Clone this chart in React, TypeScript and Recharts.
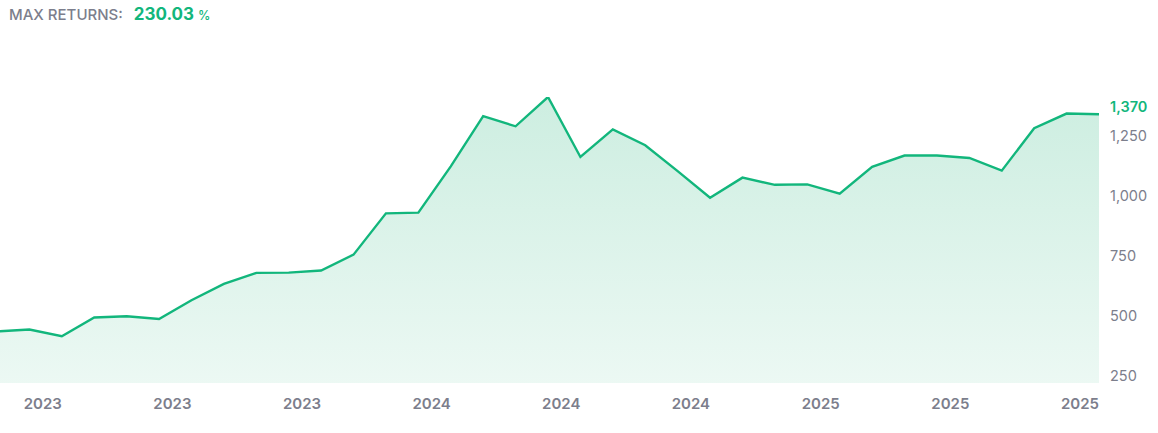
import React from 'react';
import { AreaChart, Area, XAxis, YAxis } from 'recharts';

const months = [
  '2022-11', '2022-12', '2023-01', '2023-02', '2023-03', '2023-04', '2023-05', '2023-06', '2023-07',
  '2023-08', '2023-09', '2023-10', '2023-11', '2023-12', '2024-01', '2024-02', '2024-03', '2024-04',
  '2024-05', '2024-06', '2024-07', '2024-08', '2024-09', '2024-10', '2024-11', '2024-12', '2025-01',
  '2025-02', '2025-03', '2025-04', '2025-05', '2025-06', '2025-07', '2025-08', '2025-09',
];

const navValues = [
  465, 473, 445, 523, 528, 517, 595, 663, 709, 710, 719, 785, 957, 960, 1153, 1362, 1320, 1442,
  1192, 1307, 1241, 1133, 1022, 1106, 1076, 1078, 1039, 1151, 1198, 1198, 1188, 1135, 1312, 1373, 1370,
];

const xTicks = ['2023-01', '2023-05', '2023-09', '2024-01', '2024-05', '2024-09', '2025-01', '2025-05', '2025-09'];
const yTicks = [250, 500, 750, 1000, 1250];
const maxReturns = '230.03';

const GREEN = '#12b67c';
const GRAY = '#7c7e8c';
const FONT = 'Inter, "Noto Sans", sans-serif';

const data = months.map((m, i) => ({ month: m, value: navValues[i] }));
const lastValue = navValues[navValues.length - 1];
const maxValue = Math.max(...navValues);

const XTick = (props: any) => {
  const { x, y, payload } = props;
  return (
    <text x={x} y={y} dy={18} textAnchor="end" fill={GRAY} fontSize={15} fontWeight={600} fontFamily={FONT}>
      {payload.value.slice(0, 4)}
    </text>
  );
};

const YTick = (props: any) => {
  const { x, y, payload } = props;
  const isLast = payload.value === lastValue;
  return (
    <text
      x={x + 3}
      y={y - 7.5}
      dy="0.35em"
      textAnchor="start"
      fill={isLast ? GREEN : GRAY}
      fontSize={14.5}
      fontWeight={isLast ? 600 : 400}
      fontFamily={FONT}
    >
      {payload.value.toLocaleString('en-US')}
    </text>
  );
};

export default function App() {
  return (
    <div style={{ position: 'relative', width: 1158, height: 433, overflow: 'hidden', background: '#fff', fontFamily: FONT }}>
      <style>{'body{margin:0}'}</style>
      <div style={{ position: 'absolute', left: 9, top: 4, display: 'flex', alignItems: 'baseline', whiteSpace: 'nowrap' }}>
        <span style={{ color: GRAY, fontSize: 15, fontWeight: 500 }}>MAX RETURNS:</span>
        <span style={{ color: GREEN, fontSize: 17, fontWeight: 700, marginLeft: 11 }}>{maxReturns}</span>
        <span style={{ color: GREEN, fontSize: 12.5, fontWeight: 500, marginLeft: 4 }}>%</span>
      </div>
      <div style={{ position: 'absolute', left: -3, top: 40 }}>
        <AreaChart width={1162} height={378} data={data} margin={{ top: 57, right: 0, bottom: 5, left: 0 }}>
          <defs>
            <linearGradient id="navFill" x1="0" y1="0" x2="0" y2="1">
              <stop offset="0%" stopColor="#10ad6e" stopOpacity={0.21} />
              <stop offset="100%" stopColor="#10ad6e" stopOpacity={0.08} />
            </linearGradient>
          </defs>
          <XAxis
            dataKey="month"
            ticks={xTicks}
            interval={0}
            axisLine={false}
            tickLine={false}
            height={30}
            tick={<XTick />}
          />
          <YAxis
            orientation="right"
            width={60}
            domain={[250, maxValue]}
            ticks={[...yTicks, lastValue]}
            interval={0}
            allowDataOverflow
            axisLine={false}
            tickLine={false}
            tick={<YTick />}
          />
          <Area
            type="linear"
            dataKey="value"
            stroke={GREEN}
            strokeWidth={2.4}
            fill="url(#navFill)"
            fillOpacity={1}
            dot={false}
            activeDot={false}
            baseValue={250}
            isAnimationActive={false}
          />
        </AreaChart>
      </div>
    </div>
  );
}
